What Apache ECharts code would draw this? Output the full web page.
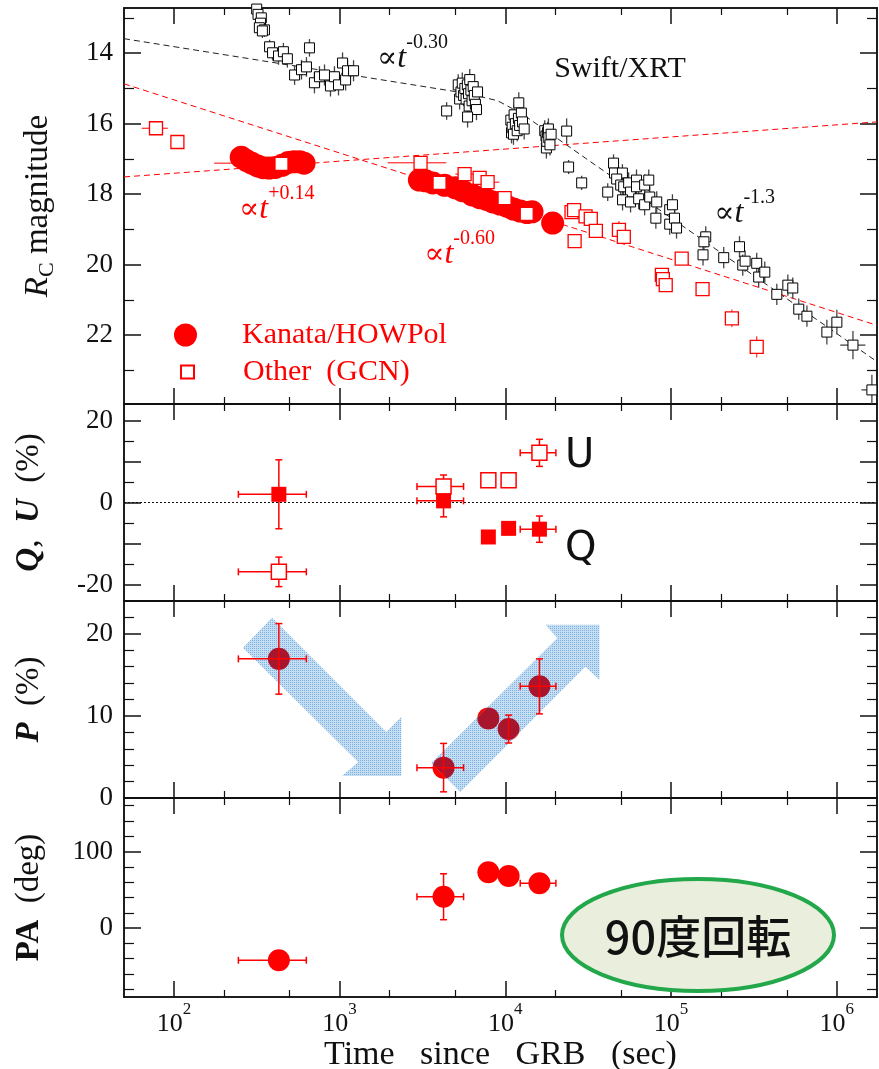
<!DOCTYPE html>
<html>
<head>
<meta charset="utf-8">
<script src="https://cdn.jsdelivr.net/npm/echarts@6/dist/echarts.min.js"></script>
<style>
  html, body { margin: 0; padding: 0; background: #fff; }
  #chart { width: 879px; height: 1069px; }
</style>
</head>
<body>
<div id="chart"></div>
<script>
// ---------------------------------------------------------------------------
// Data
// ---------------------------------------------------------------------------

// Swift/XRT light curve scaled to R_C: [time (s), mag, mag error, time lo, time hi]
const xrtPoints = [
  [300, 12.45, 0.2], [308, 12.6, 0.2], [316, 12.75, 0.2], [322, 12.9, 0.2], [337, 13.0, 0.2],
  [333, 13.15, 0.2], [328, 13.28, 0.2], [352, 13.34, 0.2], [342, 13.37, 0.2],
  [378, 13.82, 0.2], [394, 13.99, 0.22], [428, 14.08, 0.25], [458, 13.96, 0.25], [484, 14.16, 0.25],
  [658, 13.85, 0.25], [535, 14.62, 0.28], [589, 14.47, 0.28], [631, 14.39, 0.28],
  [705, 14.84, 0.3], [756, 14.67, 0.3], [811, 14.62, 0.3], [881, 14.93, 0.3], [931, 14.67, 0.3],
  [985, 14.90, 0.3], [1042, 14.28, 0.3], [1087, 14.76, 0.3], [1117, 14.50, 0.3], [1214, 14.50, 0.3],
  [4425, 15.64, 0.25],
  [5200, 14.9, 0.3], [5300, 15.3, 0.3], [5400, 15.1, 0.3], [5500, 14.85, 0.3], [5600, 15.2, 0.3],
  [5700, 15.0, 0.3], [5800, 15.3, 0.3], [5900, 14.9, 0.3], [6000, 15.15, 0.3], [6050, 15.5, 0.3],
  [6100, 14.75, 0.3], [6200, 15.05, 0.3], [6300, 15.35, 0.3], [6400, 14.95, 0.3], [6500, 15.2, 0.3],
  [6600, 15.45, 0.3], [6700, 15.6, 0.3], [6800, 15.1, 0.3], [5920, 15.81, 0.3],
  [10800, 15.9, 0.3], [10900, 16.26, 0.3], [11000, 16.1, 0.3], [11200, 16.3, 0.3], [11300, 15.75, 0.3],
  [11500, 16.0, 0.3], [11800, 16.2, 0.3], [12000, 15.85, 0.3], [12060, 15.41, 0.3], [12200, 16.05, 0.3],
  [12500, 15.7, 0.3], [12700, 15.95, 0.3], [13000, 16.15, 0.3],
  [17300, 16.2, 0.3], [17600, 16.35, 0.3], [17700, 16.69, 0.3], [17800, 16.5, 0.3], [18000, 16.25, 0.3],
  [18200, 16.15, 0.3], [18300, 16.4, 0.3], [18600, 16.6, 0.3], [18900, 16.3, 0.3],
  [23450, 16.21, 0.36], [24100, 17.23, 0.2], [28900, 17.68, 0.2],
  [45000, 17.12, 0.25], [45600, 17.40, 0.25], [50900, 17.40, 0.25], [41500, 17.94, 0.25], [47000, 17.57, 0.25],
  [49700, 17.74, 0.3], [51800, 17.79, 0.3], [55500, 17.68, 0.3], [57000, 17.94, 0.3], [51000, 18.16, 0.3],
  [57000, 18.22, 0.3], [61900, 17.60, 0.3], [61900, 17.79, 0.3], [63800, 18.13, 0.3], [69300, 17.74, 0.3],
  [69300, 18.30, 0.3], [73400, 17.60, 0.3], [74400, 18.08, 0.3], [82000, 18.22, 0.3], [81000, 18.68, 0.3],
  [98200, 18.44, 0.3], [102000, 18.30, 0.3], [98200, 18.85, 0.3], [105000, 18.68, 0.3], [108000, 18.96, 0.3],
  [162000, 19.21, 0.3], [158000, 19.35, 0.3], [156000, 19.72, 0.3], [208000, 19.80, 0.3],
  [259000, 19.49, 0.3], [271000, 20.01, 0.3], [280000, 19.90, 0.3], [329000, 19.96, 0.3],
  [338000, 20.35, 0.3], [368000, 20.21, 0.3], [435000, 20.84, 0.3], [507000, 20.58, 0.3],
  [543000, 20.66, 0.3], [590000, 21.26, 0.3], [661000, 21.46, 0.3], [872000, 21.91, 0.35],
  [1002000, 21.63, 0.35], [1253000, 22.28, 0.4, 1050000, 1490000], [1630000, 23.55, 0.43, 1410000, 1850000]
];

// Other (GCN) optical points: [time (s), mag, mag error, time lo, time hi]
const gcnPoints = [
  [78, 16.13, 0, 64, 92], [105, 16.52, 0], [446, 17.14, 0],
  [3080, 17.11, 0, 1950, 4400], [4010, 17.68, 0], [5680, 17.43, 0, 5000, 6400], [7000, 17.54, 0],
  [7820, 17.66, 0, 7000, 9200], [9900, 18.11, 0], [13470, 18.56, 0],
  [25100, 18.51, 0], [26000, 18.45, 0], [30500, 18.63, 0], [32800, 18.70, 0], [35200, 19.04, 0],
  [26200, 19.33, 0], [48500, 19.01, 0.25], [51900, 19.21, 0], [116000, 19.83, 0],
  [88100, 20.29, 0], [89300, 20.41, 0], [92900, 20.58, 0], [155000, 20.69, 0],
  [233000, 21.52, 0.25], [329000, 22.33, 0.3]
];

// Kanata/HOWPol photometry
const kanataTime = [255, 275, 295, 320, 345, 375, 410, 450, 490, 530, 575, 610,
  3030, 3300, 3650, 4300, 5000, 5500, 6300, 7000, 7700, 8400, 9300, 10200, 11200, 12300, 13500, 14500, 19300];
const kanataMag = [16.95, 17.05, 17.12, 17.2, 17.25, 17.26, 17.24, 17.18, 17.1, 17.08, 17.08, 17.12,
  17.6, 17.62, 17.68, 17.75, 17.82, 17.9, 18.02, 18.1, 18.15, 18.22, 18.28, 18.34, 18.42, 18.48, 18.52, 18.5, 18.82];
// Kanata exposure spans / error bars: [time (s), mag, mag error, time lo, time hi]
const kanataBars = [[295, 17.12, 0, 175, 420], [255, 16.95, 0.3]];

// Power-law fits: [time (s), mag]
const fitXrt = [[50, 13.59], [6000, 15.15], [9000, 15.35], [12600, 15.72], [1.75e6, 22.75]];
const fitRise = [[50, 17.51], [1.75e6, 15.95]];
const fitDecay = [[50, 14.87], [1.75e6, 21.72]];

// Polarimetry (Kanata/HOWPol)
const polTime = [430, 4240, 7900, 10470, 16070];
const polTimeLo = [245, 2930, 7900, 10470, 12300];
const polTimeHi = [630, 5600, 7900, 10470, 20200];
const stokesQ = [2.0, 0.4, -8.4, -6.3, -6.5];
const stokesQErr = [8.4, 3.9, 0, 0, 3.2];
const stokesU = [-16.9, 3.9, 5.4, 5.4, 12.1];
const stokesUErr = [3.6, 2.8, 0, 0, 3.3];
const polDegree = [16.95, 3.7, 9.7, 8.4, 13.6];
const polDegreeErr = [4.3, 2.95, 0, 1.7, 3.35];
const polAngle = [-42, 41, 73, 68, 58.7];
const polAngleErr = [0, 30, 0, 0, 0];

// Trend arrows in the P panel, outlines in [time (s), P (%)]
const arrowFalling = [[391, 21.95], [1910, 8.05], [2355, 9.88], [2355, 2.68], [1035, 2.68], [1294, 4.39], [261, 18.3]];
const arrowRising = [[3573, 4.27], [20620, 19.5], [17450, 21.1], [36980, 21.1], [36980, 14.4], [30400, 15.98], [5346, 0.73]];

// Axis ticks
const timeMajorTicks = [1e2, 1e3, 1e4, 1e5, 1e6];
const timeMinorTicks = [2e2, 5e2, 2e3, 5e3, 2e4, 5e4, 2e5, 5e5];
const magLabels = [14, 16, 18, 20, 22];
const magMinor = [13, 15, 17, 19, 21, 23];
const quLabels = [-20, 0, 20];
const quMajor = [-20, -10, 0, 10, 20];
const quMinor = [-15, -5, 5, 15];
const pLabels = [0, 10, 20];
const pMinor = [2, 4, 6, 8, 12, 14, 16, 18, 22];
const paLabels = [0, 100];
const paMinor = [-80, -60, -40, -20, 20, 40, 60, 80, 120, 140, 160];

// ---------------------------------------------------------------------------
// Layout and styling
// ---------------------------------------------------------------------------
const SERIF = '"Liberation Serif", "Times New Roman", "DejaVu Serif", serif';
const INK = '#111';
const RED = '#ff0000';
const DARK_RED = '#a8162e';
const T_MIN = 50, T_MAX = 1.75e6;

const panels = [
  { top: 8, height: 396, min: 12.72, max: 23.95, inverse: true,
    labels: magLabels, major: magLabels, minor: magMinor,
    name: '{i|R}{sub|C}{n| magnitude}', nameGap: 66 },
  { top: 404, height: 197, min: -24, max: 24,
    labels: quLabels, major: quMajor, minor: quMinor,
    name: '{bi|Q}{n|,  }{bi|U}{n|  (%)}', nameGap: 75 },
  { top: 601, height: 197, min: 0, max: 24,
    labels: pLabels, major: pLabels, minor: pMinor,
    name: '{bi|P}{n|  (%)}', nameGap: 75 },
  { top: 798, height: 199, min: -90, max: 170,
    labels: paLabels, major: paLabels, minor: paMinor,
    name: '{b|PA}{n|  (deg)}', nameGap: 75 }
];

const nameRich = {
  i:   { fontFamily: SERIF, fontSize: 33, fontStyle: 'italic', color: INK, lineHeight: 40 },
  bi:  { fontFamily: SERIF, fontSize: 33, fontStyle: 'italic', fontWeight: 'bold', color: INK, lineHeight: 40 },
  b:   { fontFamily: SERIF, fontSize: 33, fontWeight: 'bold', color: INK, lineHeight: 40 },
  n:   { fontFamily: SERIF, fontSize: 33, color: INK, lineHeight: 40 },
  sub: { fontFamily: SERIF, fontSize: 22, color: INK, lineHeight: 22, verticalAlign: 'bottom' }
};

const frameLine = { show: true, onZero: false, lineStyle: { color: INK, width: 1.5 } };

const xAxes = [];
const yAxes = [];
panels.forEach((p, gi) => {
  const last = gi === panels.length - 1;
  const xBase = { type: 'log', logBase: 10, gridIndex: gi, min: T_MIN, max: T_MAX,
    splitLine: { show: false }, axisLine: frameLine };
  const majorTick = { show: true, inside: true, length: 16, customValues: timeMajorTicks,
    lineStyle: { color: INK, width: 1.5 } };
  const minorTick = { show: true, inside: true, length: 7, customValues: timeMinorTicks,
    lineStyle: { color: INK, width: 1.2 } };
  const bottomMajor = Object.assign({}, xBase, {
    position: 'bottom', axisTick: majorTick,
    axisLabel: last ? {
      show: true, customValues: timeMajorTicks, margin: 4,
      formatter: v => '{b|10}{e|' + Math.round(Math.log10(v)) + '}',
      rich: {
        b: { fontFamily: SERIF, fontSize: 26, color: INK, lineHeight: 36, verticalAlign: 'bottom' },
        e: { fontFamily: SERIF, fontSize: 17, color: INK, lineHeight: 17, verticalAlign: 'top' }
      }
    } : { show: false }
  });
  if (last) {
    Object.assign(bottomMajor, {
      name: 'Time   since   GRB   (sec)', nameLocation: 'middle', nameGap: 33,
      nameTextStyle: { fontFamily: SERIF, fontSize: 34, color: INK }
    });
  }
  xAxes.push(bottomMajor);
  xAxes.push(Object.assign({}, xBase, { position: 'bottom', axisTick: minorTick, axisLabel: { show: false } }));
  xAxes.push(Object.assign({}, xBase, { position: 'top', axisTick: majorTick, axisLabel: { show: false } }));
  xAxes.push(Object.assign({}, xBase, { position: 'top', axisTick: minorTick, axisLabel: { show: false } }));

  const yBase = { type: 'value', gridIndex: gi, min: p.min, max: p.max, inverse: !!p.inverse,
    splitLine: { show: false }, axisLine: frameLine };
  const yMajorTick = { show: true, inside: true, length: 17, customValues: p.major,
    lineStyle: { color: INK, width: 1.5 } };
  const yMinorTick = { show: true, inside: true, length: 10, customValues: p.minor,
    lineStyle: { color: INK, width: 1.2 } };
  yAxes.push(Object.assign({}, yBase, {
    position: 'left', axisTick: yMajorTick,
    axisLabel: { show: true, customValues: p.labels, margin: 11,
      fontFamily: SERIF, fontSize: 27, color: INK },
    name: p.name, nameLocation: 'middle', nameRotate: 90, nameGap: p.nameGap,
    nameTextStyle: { rich: nameRich, fontFamily: SERIF, fontSize: 33, color: INK }
  }));
  yAxes.push(Object.assign({}, yBase, { position: 'left', axisTick: yMinorTick, axisLabel: { show: false } }));
  yAxes.push(Object.assign({}, yBase, { position: 'right', axisTick: yMajorTick, axisLabel: { show: false } }));
  yAxes.push(Object.assign({}, yBase, { position: 'right', axisTick: yMinorTick, axisLabel: { show: false } }));
});

const ax = gi => ({ xAxisIndex: gi * 4, yAxisIndex: gi * 4 });

// Error bars: each item is [t, y, tLo, tHi, yLo, yHi]
function errorBars(color, width, cap) {
  return function (params, api) {
    const t = api.value(0), y = api.value(1);
    const tLo = api.value(2), tHi = api.value(3), yLo = api.value(4), yHi = api.value(5);
    const style = { stroke: color, lineWidth: width, fill: null };
    const kids = [];
    const seg = (a, b) => kids.push({ type: 'line', shape: { x1: a[0], y1: a[1], x2: b[0], y2: b[1] }, style });
    if (tHi > tLo) {
      const a = api.coord([tLo, y]), b = api.coord([tHi, y]);
      seg(a, b);
      if (cap) { seg([a[0], a[1] - cap], [a[0], a[1] + cap]); seg([b[0], b[1] - cap], [b[0], b[1] + cap]); }
    }
    if (yHi > yLo) {
      const a = api.coord([t, yLo]), b = api.coord([t, yHi]);
      seg(a, b);
      if (cap) { seg([a[0] - cap, a[1]], [a[0] + cap, a[1]]); seg([b[0] - cap, b[1]], [b[0] + cap, b[1]]); }
    }
    return { type: 'group', children: kids };
  };
}

function errorSeries(gi, data, color, width, cap, z) {
  return Object.assign({ type: 'custom', renderItem: errorBars(color, width, cap), data,
    encode: { x: 0, y: 1 }, clip: true, silent: true, z }, ax(gi));
}

const pointErr = pts => pts.map(p => [p[0], p[1],
  p[3] !== undefined ? p[3] : p[0], p[4] !== undefined ? p[4] : p[0], p[1] - p[2], p[1] + p[2]]);
const polErr = (vals, errs) => polTime.map((t, i) => [t, vals[i], polTimeLo[i], polTimeHi[i],
  vals[i] - errs[i], vals[i] + errs[i]]);

function fitLine(gi, data, color) {
  return Object.assign({ type: 'line', data, symbol: 'none', silent: true, clip: true, z: 1,
    lineStyle: { color, width: 1, type: [6, 4] } }, ax(gi));
}

function scatter(gi, name, data, symbol, size, itemStyle, z) {
  return Object.assign({ type: 'scatter', name, data, symbol, symbolSize: size, clip: true,
    silent: true, z, itemStyle: Object.assign({ opacity: 1 }, itemStyle) }, ax(gi));
}

// Dotted-pattern fill for the trend arrows
function dotPattern() {
  const c = document.createElement('canvas');
  c.width = 4; c.height = 4;
  const g = c.getContext('2d');
  g.fillStyle = 'rgb(196,222,244)';
  g.fillRect(0, 0, 4, 4);
  g.fillStyle = 'rgb(128,176,224)';
  g.fillRect(0, 0, 1, 1); g.fillRect(2, 2, 1, 1); g.fillRect(2, 0, 1, 1); g.fillRect(0, 2, 1, 1);
  return c;
}
const arrowFill = { image: dotPattern(), repeat: 'repeat' };

function arrowSeries(gi, outline) {
  return Object.assign({
    type: 'custom', silent: true, clip: true, z: 3, data: [outline[0]], encode: { x: 0, y: 1 },
    renderItem: (params, api) => ({
      type: 'polygon',
      shape: { points: outline.map(p => api.coord(p)) },
      style: { fill: arrowFill }
    })
  }, ax(gi));
}

// P markers seen through the translucent arrows: dark discs clipped to each arrow outline
function shadedDiscs(gi, vals, outlines, radius) {
  return Object.assign({
    type: 'custom', silent: true, clip: true, z: 4,
    data: polTime.map((t, i) => [t, vals[i]]), encode: { x: 0, y: 1 },
    renderItem: (params, api) => {
      const c = api.coord([api.value(0), api.value(1)]);
      return {
        type: 'group',
        children: outlines.map(o => ({
          type: 'circle', shape: { cx: c[0], cy: c[1], r: radius },
          style: { fill: DARK_RED },
          clipPath: { type: 'polygon', shape: { points: o.map(p => api.coord(p)) } }
        }))
      };
    }
  }, ax(gi));
}

// Text annotation anchored at a data point (left edge, vertical middle)
function note(gi, t, y, text, rich) {
  return Object.assign({
    type: 'scatter', silent: true, symbolSize: 1, itemStyle: { color: 'rgba(0,0,0,0)', opacity: 1 },
    data: [[t, y]], z: 10,
    label: { show: true, position: [0, 0], align: 'left', verticalAlign: 'middle', formatter: text, rich }
  }, ax(gi));
}

const powRich = color => ({
  a: { fontFamily: SERIF, fontSize: 30, color, lineHeight: 42, verticalAlign: 'bottom' },
  t: { fontFamily: SERIF, fontSize: 32, fontStyle: 'italic', color, lineHeight: 42, verticalAlign: 'bottom' },
  s: { fontFamily: SERIF, fontSize: 20, color, lineHeight: 20, verticalAlign: 'top' }
});
const plainRich = (font, size, color) => ({ w: { fontFamily: font, fontSize: size, color } });

const series = [
  // R_C light curve
  fitLine(0, fitXrt, '#222'),
  fitLine(0, fitRise, RED),
  fitLine(0, fitDecay, RED),
  errorSeries(0, pointErr(xrtPoints), '#444', 1.3, 0, 2),
  scatter(0, 'Swift/XRT', xrtPoints.map(p => [p[0], p[1]]), 'rect', 10,
    { color: '#fff', borderColor: '#000', borderWidth: 1 }, 3),
  errorSeries(0, pointErr(kanataBars), RED, 1, 0, 3),
  scatter(0, 'Kanata/HOWPol', kanataTime.map((t, i) => [t, kanataMag[i]]), 'circle', 23,
    { color: RED }, 4),
  errorSeries(0, pointErr(gcnPoints), RED, 1, 0, 5),
  scatter(0, 'Other  (GCN)', gcnPoints.map(p => [p[0], p[1]]), 'rect', 13,
    { color: '#fff', borderColor: RED, borderWidth: 1.3 }, 6),
  note(0, 1694, 14.02, '{a|∝}{t|t}{s|-0.30}', powRich(INK)),
  note(0, 19860, 14.47, '{w|Swift/XRT}', plainRich(SERIF, 30, INK)),
  note(0, 249, 18.30, '{a|∝}{t|t}{s|+0.14}', powRich(RED)),
  note(0, 3260, 19.58, '{a|∝}{t|t}{s|-0.60}', powRich(RED)),
  note(0, 183600, 18.42, '{a|∝}{t|t}{s|-1.3}', powRich(INK)),

  // Stokes Q, U
  Object.assign({ type: 'line', data: [[T_MIN, 0], [T_MAX, 0]], symbol: 'none', silent: true, z: 1,
    lineStyle: { color: INK, width: 1, type: [2, 2] } }, ax(1)),
  errorSeries(1, polErr(stokesU, stokesUErr), RED, 1.5, 3.5, 2),
  errorSeries(1, polErr(stokesQ, stokesQErr), RED, 1.5, 3.5, 2),
  scatter(1, 'U', polTime.map((t, i) => [t, stokesU[i]]), 'rect', 15,
    { color: '#fff', borderColor: RED, borderWidth: 1.5 }, 3),
  scatter(1, 'Q', polTime.map((t, i) => [t, stokesQ[i]]), 'rect', 15, { color: RED }, 4),
  note(1, 23100, 11.0, '{w|U}', plainRich('"DejaVu Sans", sans-serif', 40, INK)),
  note(1, 23100, -11.7, '{w|Q}', plainRich('"DejaVu Sans", sans-serif', 40, INK)),

  // Polarization degree
  scatter(2, 'P', polTime.map((t, i) => [t, polDegree[i]]), 'circle', 22, { color: RED }, 2),
  arrowSeries(2, arrowFalling),
  arrowSeries(2, arrowRising),
  shadedDiscs(2, polDegree, [arrowFalling, arrowRising], 11),
  errorSeries(2, polErr(polDegree, polDegreeErr), RED, 1.5, 3.5, 5),

  // Polarization angle
  errorSeries(3, polErr(polAngle, polAngleErr), RED, 1.5, 3.5, 2),
  scatter(3, 'PA', polTime.map((t, i) => [t, polAngle[i]]), 'circle', 22, { color: RED }, 3)
];

const legendText = { fontFamily: SERIF, fontSize: 30, color: RED };

const option = {
  animation: false,
  backgroundColor: '#fff',
  textStyle: { fontFamily: SERIF },
  grid: panels.map(p => ({ left: 124, right: 2, top: p.top, height: p.height,
    containLabel: false, outerBoundsMode: 'none' })),
  xAxis: xAxes,
  yAxis: yAxes,
  legend: [
    { data: ['Kanata/HOWPol'], left: 174, top: 320, padding: 0, selectedMode: false,
      itemWidth: 23, itemHeight: 23, textStyle: Object.assign({ padding: [0, 0, 0, 40] }, legendText) },
    { data: ['Other  (GCN)'], left: 180, top: 357, padding: 0, selectedMode: false,
      itemWidth: 13, itemHeight: 13, textStyle: Object.assign({ padding: [0, 0, 0, 44] }, legendText) }
  ],
  graphic: [
    { type: 'ellipse', shape: { cx: 698, cy: 935, rx: 136, ry: 56 }, z: 100,
      style: { fill: '#eaeedc', stroke: '#22a84a', lineWidth: 4 } },
    { type: 'text', x: 698, y: 937, z: 101,
      style: { text: '90度回転', fontSize: 45, fontFamily: '"Noto Sans CJK JP", sans-serif',
        fontWeight: 500, fill: INK, align: 'center', verticalAlign: 'middle' } }
  ],
  series
};

const chart = echarts.init(document.getElementById('chart'), null, { renderer: 'canvas' });
chart.setOption(option);
</script>
</body>
</html>
